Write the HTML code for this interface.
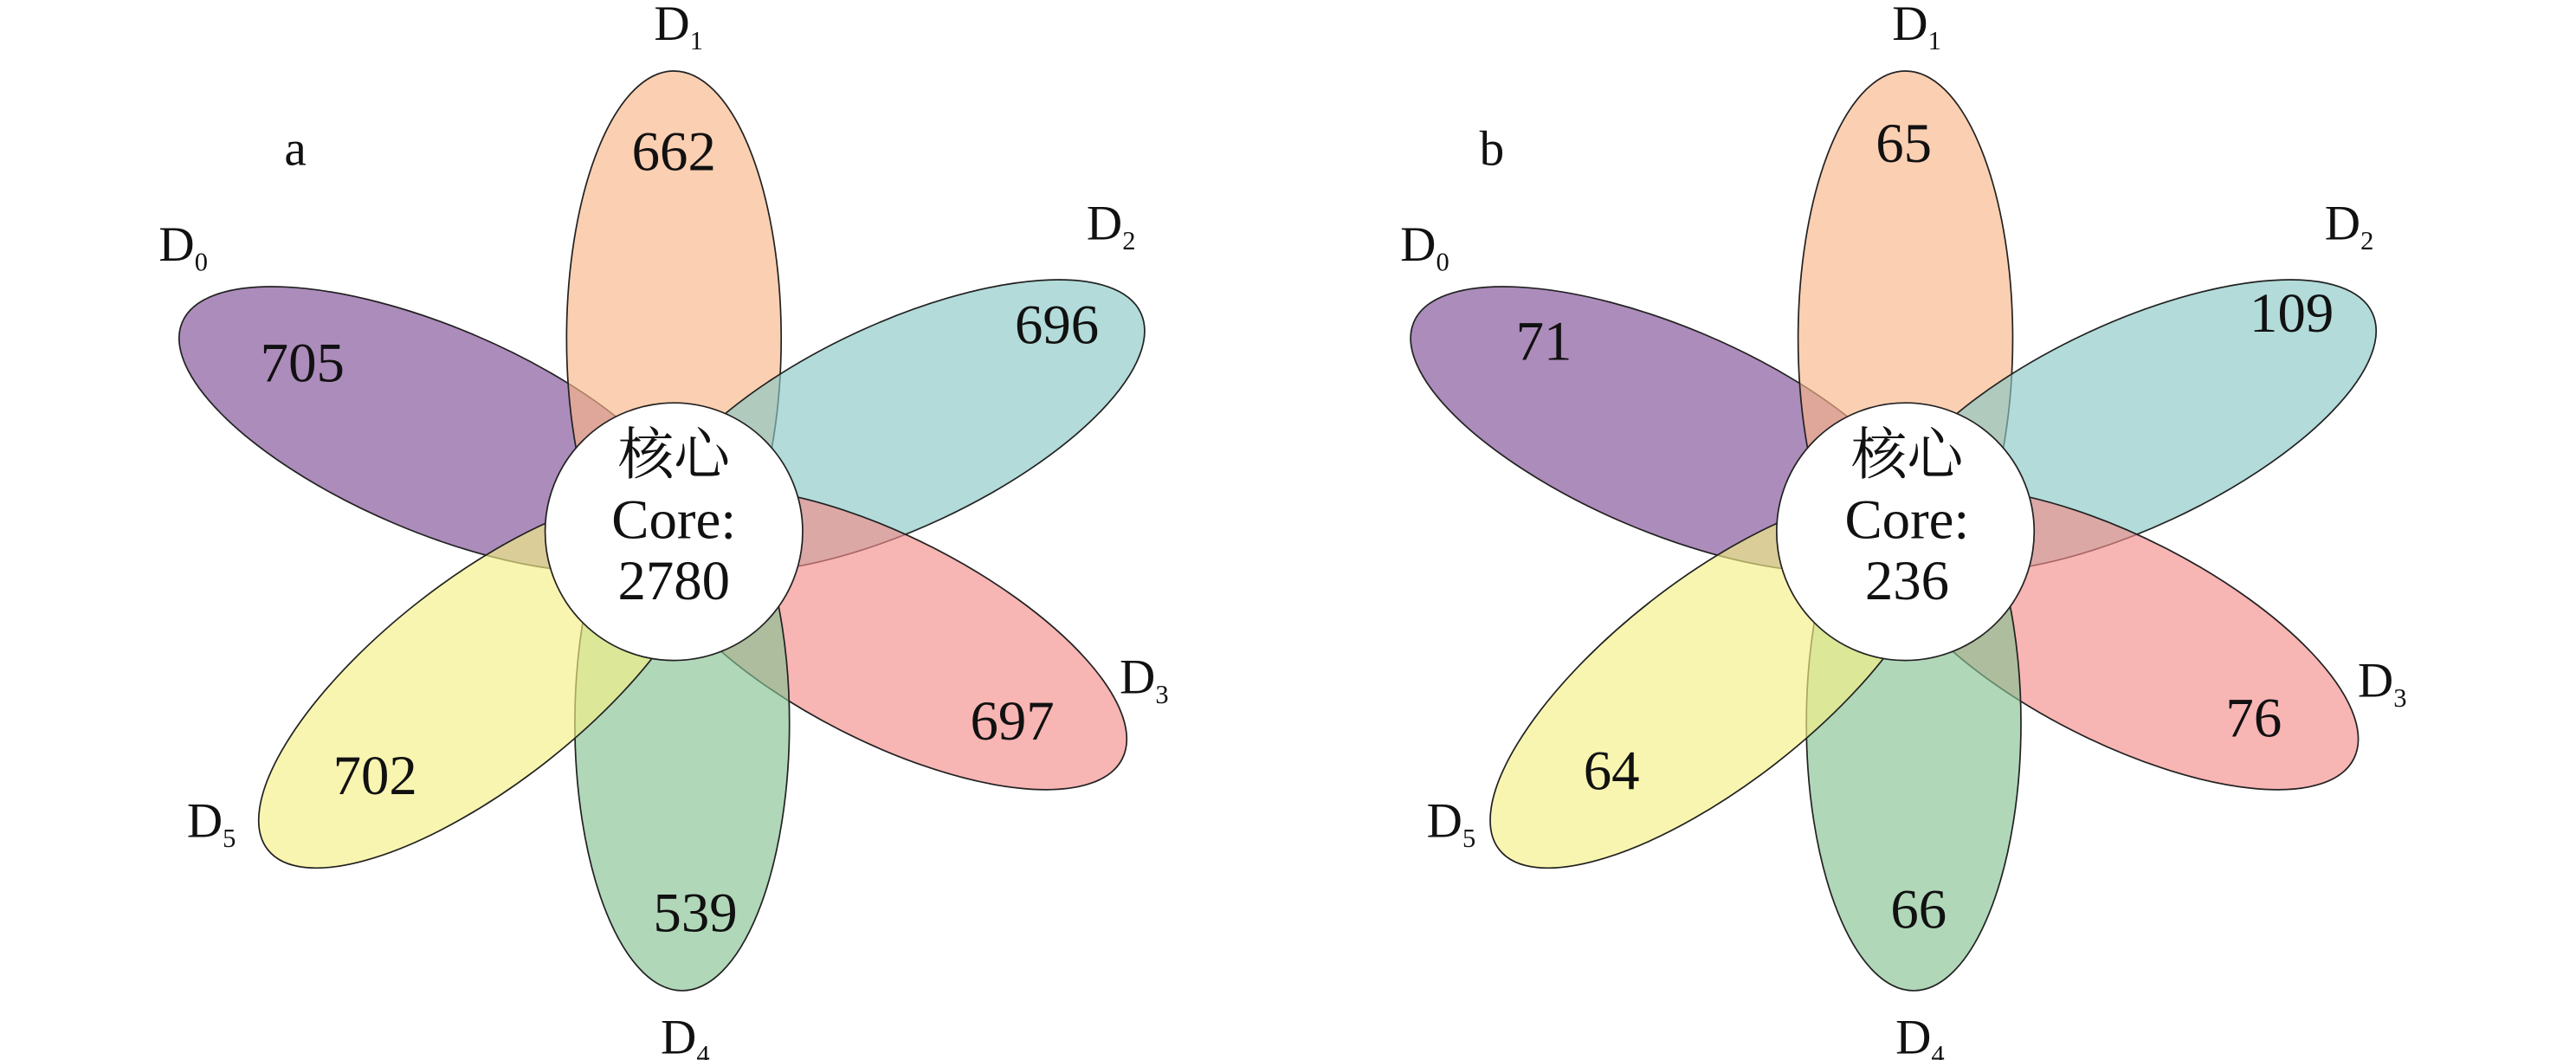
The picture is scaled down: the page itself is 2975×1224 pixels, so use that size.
<!DOCTYPE html>
<html><head><meta charset="utf-8"><style>
html,body{margin:0;padding:0;background:#fff;}
svg{display:block;}
text{font-family:"Liberation Serif","Noto Serif CJK SC",serif;fill:#111;}
</style></head><body>
<svg width="2975" height="1224" viewBox="0 0 1560 642" xmlns="http://www.w3.org/2000/svg">
<defs>
<g id="petals" stroke="#222" stroke-width="0.9" fill-opacity="0.65">
  <ellipse cx="263" cy="260" rx="166" ry="62" transform="rotate(23 263 260)" fill="#7f4f96"/>
  <ellipse cx="408" cy="205" rx="65" ry="162" fill="#f9b587"/>
  <ellipse cx="544" cy="258" rx="162" ry="62" transform="rotate(-25 544 258)" fill="#89c8c5"/>
  <ellipse cx="537" cy="387" rx="160" ry="62" transform="rotate(27 537 387)" fill="#f38e8a"/>
  <ellipse cx="413" cy="438" rx="65" ry="162" fill="#86c292"/>
  <ellipse cx="292" cy="413" rx="165" ry="62" transform="rotate(-38 292 413)" fill="#f5f086"/>
  <circle cx="408" cy="322" r="78" fill="#fff" fill-opacity="1" stroke="#222"/>
</g>
</defs>
<use href="#petals"/>
<use href="#petals" transform="translate(746,0)"/>

<g font-size="30">
<text x="172" y="100">a</text>
<text x="396" y="24">D<tspan font-size="16" dy="6">1</tspan></text>
<text x="96" y="158">D<tspan font-size="16" dy="6">0</tspan></text>
<text x="658" y="145">D<tspan font-size="16" dy="6">2</tspan></text>
<text x="678" y="420">D<tspan font-size="16" dy="6">3</tspan></text>
<text x="400" y="638">D<tspan font-size="16" dy="6">4</tspan></text>
<text x="113" y="507">D<tspan font-size="16" dy="6">5</tspan></text>

<text x="896" y="100">b</text>
<text x="1146" y="24">D<tspan font-size="16" dy="6">1</tspan></text>
<text x="848" y="158">D<tspan font-size="16" dy="6">0</tspan></text>
<text x="1408" y="145">D<tspan font-size="16" dy="6">2</tspan></text>
<text x="1428" y="422">D<tspan font-size="16" dy="6">3</tspan></text>
<text x="1148" y="638">D<tspan font-size="16" dy="6">4</tspan></text>
<text x="864" y="507">D<tspan font-size="16" dy="6">5</tspan></text>
</g>

<g font-size="34" text-anchor="middle">
<text x="408" y="103">662</text>
<text x="183" y="231">705</text>
<text x="640" y="208">696</text>
<text x="613" y="448">697</text>
<text x="421" y="564">539</text>
<text x="227" y="481">702</text>
<text x="408" y="287">核心</text>
<text x="408" y="326">Core:</text>
<text x="408" y="363">2780</text>

<text x="1153" y="98">65</text>
<text x="935" y="218">71</text>
<text x="1388" y="201">109</text>
<text x="1365" y="446">76</text>
<text x="1162" y="562">66</text>
<text x="976" y="478">64</text>
<text x="1155" y="287">核心</text>
<text x="1155" y="326">Core:</text>
<text x="1155" y="363">236</text>
</g>
</svg>
</body></html>
